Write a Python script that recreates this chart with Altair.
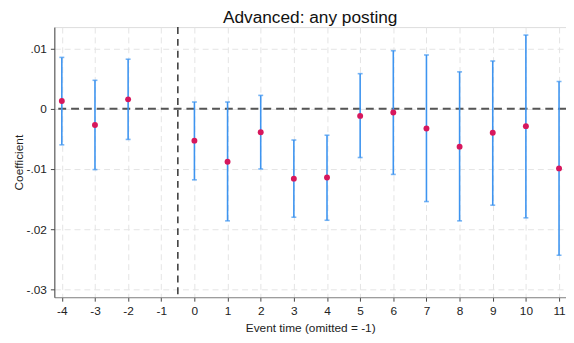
import altair as alt
import pandas as pd

event_time = [-4, -3, -2, 0, 1, 2, 3, 4, 5, 6, 7, 8, 9, 10, 11]
coef = [0.00126, -0.0027, 0.00154, -0.0053, -0.0088, -0.0039, -0.0116, -0.0114,
        -0.0012, -0.00065, -0.0033, -0.0063, -0.0040, -0.0029, -0.0099]
ci_hi = [0.0085, 0.0047, 0.0082, 0.0011, 0.0011, 0.0022, -0.0052, -0.0044,
         0.0058, 0.0096, 0.0089, 0.0061, 0.0079, 0.0122, 0.0045]
ci_lo = [-0.0060, -0.0101, -0.0051, -0.0118, -0.0186, -0.0100, -0.0180, -0.0185,
         -0.0081, -0.0109, -0.0154, -0.0186, -0.0160, -0.0181, -0.0243]
x_ticks = list(range(-4, 12))
y_ticks = [-0.03, -0.02, -0.01, 0, 0.01]

df = pd.DataFrame({"t": event_time, "b": coef, "lo": ci_lo, "hi": ci_hi})

FONT = "Liberation Sans"
xscale = alt.Scale(domain=[-4.226, 11.21], nice=False, zero=False)
yscale = alt.Scale(domain=[-0.03126, 0.01352], nice=False, zero=False)

xaxis = alt.Axis(values=x_ticks, title="Event time (omitted = -1)", grid=True,
                 gridDash=[6, 4], gridColor="#e4e4e4", gridWidth=1,
                 domainColor="#888888", tickColor="#444444", tickSize=4,
                 labelOverlap=False, labelExpr="toString(datum.value)",
                 labelFont=FONT, labelFontSize=12, labelColor="#222222",
                 titleFont=FONT, titleFontSize=12, titleFontWeight="normal",
                 titleColor="#222222", labelPadding=5, titlePadding=6)
yaxis = alt.Axis(values=y_ticks, title="Coefficient", grid=True,
                 gridDash=[6, 4], gridColor="#e4e4e4", gridWidth=1,
                 domainColor="#444444", tickColor="#444444", tickSize=4,
                 labelOverlap=False,
                 labelExpr="datum.value == 0 ? '0' : replace(toString(round(datum.value * 100) / 100), '0.', '.')",
                 labelFont=FONT, labelFontSize=12, labelColor="#222222",
                 titleFont=FONT, titleFontSize=12, titleFontWeight="normal",
                 titleColor="#222222", labelPadding=4, titlePadding=1)

base = alt.Chart(df)

rules = base.mark_rule(color="#3d94f0", strokeWidth=1.6).encode(
    x=alt.X("t:Q", scale=xscale, axis=xaxis),
    y=alt.Y("lo:Q", scale=yscale, axis=yaxis),
    y2="hi:Q",
)
cap_hi = base.mark_tick(color="#3d94f0", orient="horizontal", size=5, thickness=1.6).encode(
    x=alt.X("t:Q", scale=xscale, axis=xaxis), y=alt.Y("hi:Q", scale=yscale, axis=yaxis))
cap_lo = base.mark_tick(color="#3d94f0", orient="horizontal", size=5, thickness=1.6).encode(
    x=alt.X("t:Q", scale=xscale, axis=xaxis), y=alt.Y("lo:Q", scale=yscale, axis=yaxis))

zero_df = pd.DataFrame({"y": [0]})
zero_line = alt.Chart(zero_df).mark_rule(color="#555555", strokeWidth=2, strokeDash=[8, 5]).encode(
    y=alt.Y("y:Q", scale=yscale, axis=yaxis))
vline_df = pd.DataFrame({"x": [-0.5]})
vline = alt.Chart(vline_df).mark_rule(color="#333333", strokeWidth=1.5, strokeDash=[7, 5]).encode(
    x=alt.X("x:Q", scale=xscale, axis=xaxis))

points = base.mark_circle(color="#d7175c", opacity=1, size=36).encode(
    x=alt.X("t:Q", scale=xscale, axis=xaxis), y=alt.Y("b:Q", scale=yscale, axis=yaxis))

chart = alt.layer(zero_line, vline, rules, cap_hi, cap_lo, points).properties(
    width=519, height=274,
    title=alt.TitleParams("Advanced: any posting", font=FONT, fontSize=17.5,
                          fontWeight="normal", color="#111111", anchor="middle", offset=0),
    autosize=alt.AutoSizeParams(type="none"),
    padding={"left": 47, "top": 17, "right": 0, "bottom": 40},
).configure_view(stroke=None).configure(background="white").configure_axis(labelOverlap=False)

chart.save("out.html", embed_options={"renderer": "svg", "actions": False})
